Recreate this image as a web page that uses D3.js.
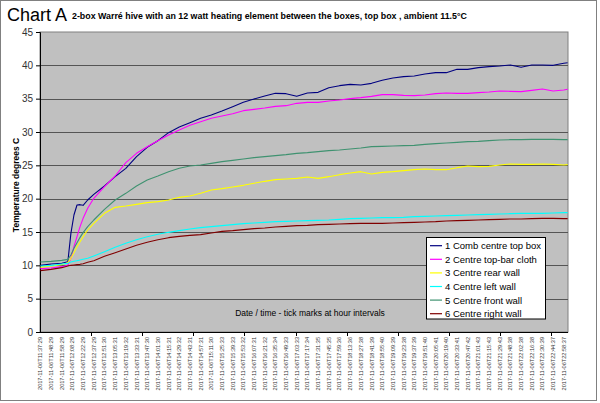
<!DOCTYPE html>
<html><head><meta charset="utf-8">
<script src="https://cdn.jsdelivr.net/npm/d3@7/dist/d3.min.js"></script>
<style>html,body{margin:0;padding:0;background:#fff;}svg{display:block;font-family:"Liberation Sans",Arial,sans-serif;}</style>
</head><body>
<svg id="chart" width="600" height="403"></svg>
<script>
// ---- data ----
const sampleCount = 692;   // number of logged readings (categories)
const labelEvery = 14;     // a time label every 14 readings
const tickEvery = 67;      // ~ one hour of readings
const timeLabels = ["2017-11-06T11:37:29","2017-11-06T11:48:29","2017-11-06T11:58:29","2017-11-06T12:08:29","2017-11-06T12:22:29","2017-11-06T12:37:29","2017-11-06T12:51:30","2017-11-06T13:05:31","2017-11-06T13:19:32","2017-11-06T13:33:31","2017-11-06T13:47:30","2017-11-06T14:01:30","2017-11-06T14:15:31","2017-11-06T14:29:32","2017-11-06T14:43:31","2017-11-06T14:57:31","2017-11-06T15:11:30","2017-11-06T15:25:33","2017-11-06T15:39:33","2017-11-06T15:53:32","2017-11-06T16:07:31","2017-11-06T16:21:32","2017-11-06T16:35:34","2017-11-06T16:49:33","2017-11-06T17:03:33","2017-11-06T17:17:34","2017-11-06T17:31:35","2017-11-06T17:45:35","2017-11-06T17:59:36","2017-11-06T18:13:36","2017-11-06T18:27:38","2017-11-06T18:41:39","2017-11-06T18:55:40","2017-11-06T19:09:39","2017-11-06T19:23:38","2017-11-06T19:37:39","2017-11-06T19:51:40","2017-11-06T20:05:41","2017-11-06T20:19:40","2017-11-06T20:33:41","2017-11-06T20:47:42","2017-11-06T21:01:43","2017-11-06T21:15:43","2017-11-06T21:29:43","2017-11-06T21:48:38","2017-11-06T22:02:38","2017-11-06T22:16:38","2017-11-06T22:30:39","2017-11-06T22:44:37","2017-11-06T22:58:37"];
// reading index of each sampled value
const sampleIdx = [0,14,28,36,40,44,48,52,56,62,70,84,98,112,126,140,154,168,182,196,210,224,238,252,266,280,294,308,322,336,350,364,378,392,406,420,434,448,462,476,490,504,518,532,546,560,574,588,602,616,630,644,658,672,686,691];
const combTop = [10.0,10.2,10.3,10.55,14.8,17.55,19.05,19.1,19.0,19.8,20.65,21.9,23.3,24.55,26.3,27.7,28.7,29.9,30.75,31.4,32.05,32.55,33.15,33.8,34.45,34.95,35.4,35.8,35.75,35.35,35.85,35.95,36.65,36.95,37.15,37.05,37.3,37.75,38.1,38.3,38.4,38.7,38.9,38.9,39.4,39.4,39.65,39.8,39.9,40.05,39.7,40.05,40.05,40.0,40.3,40.4];
const topBarCloth = [9.5,9.6,9.8,10.0,11.05,12.8,14.3,15.8,17.05,18.55,20.05,21.8,23.4,25.4,26.8,27.8,28.7,29.55,30.3,31.0,31.55,32.05,32.4,32.75,33.2,33.4,33.6,33.85,33.95,34.3,34.45,34.45,34.65,34.8,35.0,35.15,35.35,35.6,35.6,35.5,35.45,35.55,35.75,35.85,35.8,35.8,35.9,36.0,36.15,36.1,36.05,36.25,36.45,36.15,36.3,36.4];
const rearWall = [9.7,9.9,10.1,10.4,11.05,11.9,12.8,13.55,14.3,15.3,16.3,17.8,18.7,18.9,19.15,19.4,19.55,19.8,20.2,20.4,20.8,21.3,21.5,21.75,22.0,22.3,22.6,22.85,22.95,23.05,23.25,23.05,23.3,23.6,23.85,24.05,23.7,23.95,24.05,24.2,24.35,24.45,24.35,24.35,24.65,24.9,24.8,24.85,25.05,25.2,25.15,25.15,25.2,25.15,25.05,25.1];
const leftWall = [9.9,10.0,10.2,10.3,10.5,10.6,10.7,10.8,10.9,11.05,11.4,12.05,12.7,13.3,13.85,14.3,14.65,14.95,15.2,15.45,15.65,15.8,15.95,16.1,16.25,16.35,16.45,16.55,16.6,16.65,16.7,16.75,16.8,16.9,17.0,17.05,17.1,17.15,17.15,17.2,17.3,17.35,17.4,17.45,17.5,17.55,17.6,17.65,17.7,17.75,17.8,17.8,17.8,17.85,17.9,17.9];
const frontWall = [10.5,10.6,10.75,10.9,11.55,12.55,13.4,14.2,14.9,15.8,16.8,18.4,19.8,20.8,21.9,22.8,23.4,24.05,24.55,24.9,25.05,25.3,25.55,25.75,25.95,26.15,26.3,26.45,26.6,26.8,26.9,27.05,27.2,27.3,27.45,27.6,27.8,27.85,27.9,27.95,28.0,28.15,28.25,28.35,28.45,28.55,28.6,28.7,28.8,28.85,28.85,28.9,28.9,28.9,28.85,28.85];
const rightWall = [9.2,9.4,9.65,9.9,10.0,10.05,10.1,10.15,10.25,10.45,10.7,11.35,11.9,12.45,13.0,13.45,13.85,14.15,14.35,14.5,14.6,14.85,15.1,15.2,15.35,15.5,15.6,15.75,15.85,15.95,16.0,16.1,16.15,16.2,16.25,16.3,16.3,16.3,16.35,16.4,16.45,16.5,16.55,16.65,16.7,16.75,16.8,16.85,16.9,16.95,16.95,17.0,17.05,17.05,17.0,17.0];
const seriesNames = ["1 Comb centre top box","2 Centre top-bar cloth","3 Centre rear wall","4 Centre left wall","5 Centre front wall","6 Centre right wall"];
const seriesColors = ["#000080","#ff00ff","#ffff00","#00ffff","#3f9270","#800000"];
const yTicks = [0,5,10,15,20,25,30,35,40,45];

// ---- drawing ----
const seriesValues = [combTop, topBarCloth, rearWall, leftWall, frontWall, rightWall];
const svg = d3.select("#chart");
const P = {l:40, r:568, t:32, b:332};
const x = d3.scaleLinear().domain([0, sampleCount]).range([P.l, P.r]);
const y = d3.scaleLinear().domain([0, 45]).range([P.b, P.t]);

// chart area border
svg.append("rect").attr("x",0.5).attr("y",0.5).attr("width",596).attr("height",400)
  .attr("fill","#fff").attr("stroke","#808080").attr("stroke-width",1);

// plot area
svg.append("rect").attr("x",P.l).attr("y",P.t).attr("width",P.r-P.l).attr("height",P.b-P.t)
  .attr("fill","#c0c0c0").attr("stroke","#808080").attr("stroke-width",1);

// gridlines
svg.append("g").selectAll("line").data(yTicks.filter(v=>v>0 && v<45)).join("line")
  .attr("x1",P.l).attr("x2",P.r).attr("y1",d=>Math.round(y(d))+0.5).attr("y2",d=>Math.round(y(d))+0.5)
  .attr("stroke","#555").attr("stroke-width",1);

// y axis
const yAxis = d3.axisLeft(y).tickValues(yTicks).tickSize(4).tickPadding(3);
const gy = svg.append("g").attr("transform",`translate(${P.l},0)`).call(yAxis);
gy.select(".domain").attr("stroke","#000");
gy.selectAll(".tick line").attr("stroke","#000");
gy.selectAll("text").attr("font-size","10px").attr("fill","#333").attr("font-family","Liberation Sans, Arial, sans-serif");

// x axis (category axis)
const labelPos = timeLabels.map((t,i)=>i*labelEvery);
svg.append("line").attr("x1",P.l).attr("x2",P.r).attr("y1",P.b+0.5).attr("y2",P.b+0.5).attr("stroke","#000");
const hourTicks = d3.range(tickEvery, sampleCount, tickEvery);
svg.append("g").selectAll("line").data(hourTicks).join("line")
  .attr("x1",d=>Math.round(x(d))+0.5).attr("x2",d=>Math.round(x(d))+0.5)
  .attr("y1",P.b).attr("y2",P.b+4).attr("stroke","#000");
svg.append("g").selectAll("text").data(timeLabels).join("text")
  .attr("transform",(d,i)=>`translate(${x(labelPos[i]+0.5)+2},${P.b+5}) rotate(-90)`)
  .attr("text-anchor","end").attr("font-size","5.6px").attr("fill","#333").text(d=>d);

// lines
const line = d3.line().x((d,i)=>x(sampleIdx[i]+0.5)).y(d=>y(d));
svg.append("g").selectAll("path").data(seriesValues).join("path")
  .attr("d",d=>line(d)).attr("fill","none")
  .attr("stroke",(d,i)=>seriesColors[i]).attr("stroke-width",1.1).attr("stroke-linejoin","round");

// titles
svg.append("text").attr("x",7).attr("y",21).attr("font-size","18px").attr("fill","#000").text("Chart A");
svg.append("text").attr("x",72).attr("y",19).attr("font-size","8.85px").attr("font-weight","bold").attr("fill","#000")
  .text("2-box Warré hive with an 12 watt heating element between the boxes, top box , ambient 11.5°C");
svg.append("text").attr("transform","translate(19,185) rotate(-90)").attr("text-anchor","middle")
  .attr("font-size","8.5px").attr("font-weight","bold").attr("fill","#000").text("Temperature degrees C");
svg.append("text").attr("x",310).attr("y",316).attr("text-anchor","middle")
  .attr("font-size","8.5px").attr("fill","#000").text("Date / time - tick marks at hour intervals");

// legend
const L = {x:426, y:237.5, w:119, h:81.5, row:13.6};
const lg = svg.append("g");
lg.append("rect").attr("x",L.x+0.5).attr("y",L.y).attr("width",L.w).attr("height",L.h)
  .attr("fill","#fff").attr("stroke","#000").attr("stroke-width",1);
const items = lg.selectAll("g.item").data(seriesNames).join("g").attr("class","item")
  .attr("transform",(d,i)=>`translate(${L.x},${L.y+8.2+i*L.row})`);
items.append("line").attr("x1",4).attr("x2",16).attr("y1",0).attr("y2",0)
  .attr("stroke",(d,i)=>seriesColors[i]).attr("stroke-width",1.2);
items.append("text").attr("x",19).attr("y",3.4).attr("font-size","9.5px").attr("fill","#000").text(d=>d);
</script>
</body></html>
